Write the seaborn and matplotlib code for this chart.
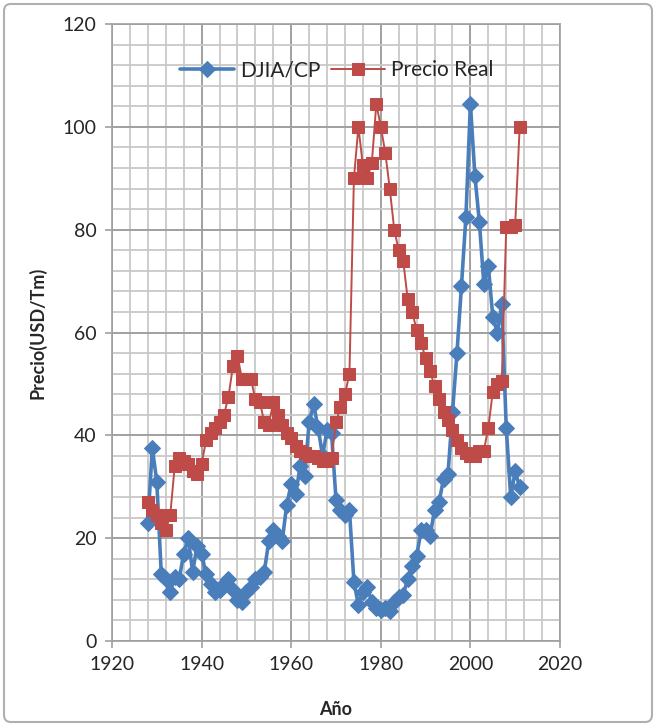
import matplotlib
matplotlib.use("Agg")
from matplotlib import pyplot as plt
from matplotlib.patches import FancyBboxPatch
from matplotlib.ticker import MultipleLocator
import numpy as np
import seaborn as sns

years = list(range(1928, 2012))

djia_cp = [23, 37.5, 31, 13, 12, 9.5, 12.5, 12, 17, 20,
           13.5, 18.5, 17, 13, 11, 9.5, 10, 11, 12, 10,
           8, 7.5, 9.5, 10.5, 12, 12.5, 13.5, 19.5, 21.5, 20.5,
           19.5, 26.5, 30.5, 28.5, 34, 32, 42.5, 46, 41.5, 36,
           41, 40.5, 27.5, 25.5, 24.5, 25.5, 11.5, 7, 9.5, 10.5,
           7.5, 6.5, 6, 6.5, 5.8, 7.5, 8.5, 9, 12, 14.5,
           16.5, 21.5, 21.5, 20.5, 25.5, 27, 31.5, 32.5, 44.5, 56,
           69, 82.5, 104.5, 90.5, 81.5, 69.5, 73, 63, 60, 65.5,
           41.5, 28, 33, 30]

precio_real = [27, 25.5, 24.5, 23, 21.5, 24.5, 34, 35.5, 35, 34.5,
               33, 32.5, 34.5, 39, 40.5, 41.5, 42.5, 44, 47.5, 53.5,
               55.5, 51, 51, 51, 47, 46.5, 42.5, 42, 46.5, 44,
               42, 40.5, 39.5, 38, 37, 36.5, 36, 36, 35.5, 35,
               35, 35.5, 42.5, 45.5, 48, 52, 90, 100, 92.5, 90,
               93, 104.5, 100, 95, 88, 80, 76, 74, 66.5, 64,
               60.5, 58, 55, 52.5, 49.5, 47, 44.5, 43, 41, 39,
               37.5, 36.5, 36, 36, 37, 37, 41.5, 48.5, 50, 50.5,
               80.5, 80.5, 81, 100]

sns.set_style("white")
plt.rcParams['font.family'] = ['Lato', 'DejaVu Sans']

fig = plt.figure(figsize=(6.57, 7.26), dpi=100)
ax = fig.add_axes([112/657, 1-641/726, 448/657, 617/726])

blue = "#4A7EBB"
red = "#BE4B48"

sns.lineplot(x=years, y=djia_cp, ax=ax, color=blue, linewidth=2.6,
             marker='D', markersize=8.5, markeredgecolor=blue,
             label="DJIA/CP", zorder=3)
sns.lineplot(x=years, y=precio_real, ax=ax, color=red, linewidth=1.4,
             marker='s', markersize=8.5, markeredgecolor=red,
             label="Precio Real", zorder=4)

ax.set_xlim(1920, 2020)
ax.set_ylim(0, 120)
ax.xaxis.set_major_locator(MultipleLocator(20))
ax.xaxis.set_minor_locator(MultipleLocator(4))
ax.yaxis.set_major_locator(MultipleLocator(20))
ax.yaxis.set_minor_locator(MultipleLocator(4))
ax.grid(which='minor', color='#C8C8C8', linewidth=1.3, zorder=0)
ax.grid(which='major', color='#A0A0A0', linewidth=1.4, zorder=0)
ax.set_axisbelow(True)
for s in ax.spines.values():
    s.set_color('#A0A0A0')
    s.set_linewidth(1.2)
ax.tick_params(which='major', length=5, width=1.2, color='#A0A0A0',
               labelsize=14, pad=6, bottom=True, left=True)
ax.tick_params(which='minor', length=0)

ax.set_xlabel("Año", fontsize=13, fontweight='bold', labelpad=20)
ax.set_ylabel("Precio(USD/Tm)", fontsize=13, fontweight='bold', labelpad=12)

ax.legend(loc='center', bbox_to_anchor=(0.502, 0.925), ncol=2, frameon=False,
          fontsize=15, handlelength=2.6, columnspacing=0.5, handletextpad=0.3)

fig.patches.append(FancyBboxPatch((4/657, 4/726), 648/657, 718/726,
                                  boxstyle="round,pad=0,rounding_size=0.01",
                                  transform=fig.transFigure, fill=False,
                                  edgecolor='#B0B0B0', linewidth=1.5))

fig.savefig("out.png", dpi=100)
